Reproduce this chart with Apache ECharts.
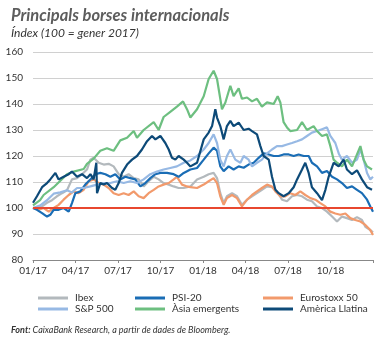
<!DOCTYPE html>
<html><head><meta charset="utf-8">
<script src="https://cdn.jsdelivr.net/npm/echarts@6/dist/echarts.min.js"></script>
<style>html,body{margin:0;padding:0;background:#fff}#c{width:379px;height:338px}</style>
</head><body><div id="c"></div>
<script>
const xTickLabels = ['01/17','04/17','07/17','10/17','01/18','04/18','07/18','10/18',''];
const yTicks = [80,90,100,110,120,130,140,150,160];
// [month since Jan 2017, index]
const ibex = [[0,100],[0.28,100],[0.64,100.6],[0.99,102],[1.34,103],[1.69,104.5],[2.05,105.7],[2.4,106.8],[2.75,111],[3.11,111.5],[3.46,113],[3.81,114.8],[4.05,118.6],[4.28,119.3],[4.64,117.4],[4.99,116.7],[5.34,117],[5.69,116],[6.05,113],[6.4,112],[6.75,113],[7.11,111.5],[7.46,111],[7.81,108.3],[8.16,110.3],[8.52,112],[8.87,111],[9.22,109.6],[9.58,109],[9.93,108.3],[10.28,107.7],[10.64,107.7],[11.11,108.3],[11.58,111],[12.05,112],[12.4,113],[12.75,113.5],[12.99,111.5],[13.22,105.7],[13.46,101.9],[13.69,104.5],[14.05,105.7],[14.4,104.5],[14.75,101.2],[15.11,103.2],[15.46,104.5],[15.81,105.7],[16.16,107],[16.52,108.3],[16.87,108],[17.22,106.4],[17.58,103.2],[17.93,102.6],[18.28,104.5],[18.64,105],[18.99,104.5],[19.34,103.2],[19.69,102.6],[20.05,100.6],[20.4,100],[20.75,98.6],[21.11,96.7],[21.46,94.8],[21.81,96.7],[22.16,96.1],[22.52,95.4],[22.87,96.5],[23.22,95.4],[23.46,92.8],[23.81,91.5],[24,90.6]];
const psi20 = [[0,100],[0.28,99.3],[0.64,98],[0.99,96.7],[1.22,97.4],[1.46,99.3],[1.81,99.3],[2.16,100],[2.52,98.6],[2.75,101.9],[2.99,105.7],[3.34,106.4],[3.69,109],[4.05,111],[4.4,113],[4.75,113.5],[5.11,113],[5.46,112],[5.81,113],[6.16,111],[6.52,112],[6.87,111.5],[7.22,111],[7.58,108.3],[7.93,109.6],[8.28,111.5],[8.64,113],[8.99,113.5],[9.46,113.5],[9.93,113],[10.28,112],[10.64,113.5],[11.11,114.8],[11.58,115.4],[12.05,118.6],[12.4,121],[12.75,123.2],[12.99,122],[13.22,116],[13.46,114.2],[13.81,116],[14.16,114.8],[14.52,116],[14.87,115.5],[15.22,116.7],[15.58,117.4],[15.93,119.3],[16.28,121],[16.64,120.6],[16.99,120],[17.34,120],[17.69,120.6],[18.05,120.6],[18.4,120],[18.75,120.6],[19.11,120],[19.46,120],[19.69,117.4],[20.05,116],[20.4,113.5],[20.75,114.2],[21.11,112],[21.46,111],[21.81,109.6],[22.16,107.7],[22.52,108.3],[22.87,107],[23.22,105.7],[23.58,103.2],[23.81,100.6],[24,98.6]];
const eurostoxx = [[0,100],[0.4,99.3],[0.75,100],[1.11,98.6],[1.46,100],[1.81,101.2],[2.16,103.2],[2.52,105],[2.87,106.4],[3.22,105.7],[3.58,107],[3.93,110.3],[4.28,111],[4.64,109.6],[4.99,109],[5.34,107.7],[5.69,105.7],[6.05,105],[6.4,105.7],[6.75,105],[7.11,106.4],[7.46,104.5],[7.81,103.8],[8.16,105.7],[8.52,107],[8.87,108.3],[9.22,109],[9.58,109.6],[9.93,111],[10.16,112],[10.52,109],[10.87,108.3],[11.11,108],[11.58,107.7],[12.05,109],[12.4,110.3],[12.75,111.5],[12.99,109.6],[13.22,104.5],[13.46,101.2],[13.69,103.8],[14.05,105],[14.4,103.8],[14.75,100.6],[15.11,103.2],[15.46,105],[15.81,106.4],[16.16,107.7],[16.52,109],[16.87,108.3],[17.11,106.4],[17.46,104.5],[17.81,104.5],[18.16,105.7],[18.52,105],[18.87,106.4],[19.22,105],[19.58,103.8],[19.93,103.2],[20.28,101.9],[20.64,100.6],[20.99,98.6],[21.34,97.9],[21.69,97.4],[22.05,97.9],[22.4,96.1],[22.75,95.4],[23.11,94.8],[23.46,93.5],[23.81,91.5],[24,89.6]];
const sp500 = [[0,100],[0.52,101],[0.99,103],[1.46,105.5],[1.93,106],[2.4,106.8],[2.75,106],[3.11,107.7],[3.58,107.7],[4.05,108.3],[4.52,109],[4.99,109.6],[5.46,109.6],[5.93,110.3],[6.4,109.6],[6.87,110.3],[7.34,109.6],[7.81,111],[8.28,113],[8.75,114],[9.22,114.8],[9.69,115.4],[10.16,116],[10.64,117.4],[11.11,118.3],[11.58,120],[12.05,122.5],[12.4,125],[12.75,128.3],[12.99,125],[13.22,118.6],[13.46,116],[13.69,120],[13.93,122.5],[14.28,118.6],[14.64,117.4],[14.87,120],[15.22,118.6],[15.46,116],[15.81,117.4],[16.16,118.6],[16.52,121],[16.87,122.5],[17.22,123.8],[17.58,123.8],[17.93,124.4],[18.28,125],[18.64,125.7],[18.99,126.4],[19.34,127.7],[19.69,129],[20.05,129.6],[20.4,130.3],[20.75,131],[20.99,127.7],[21.34,125],[21.58,121],[21.81,118.6],[22.16,120],[22.52,117.4],[22.87,118.6],[23.11,122.5],[23.34,118.6],[23.58,113.5],[23.81,111],[24,112]];
const asia = [[0,101],[0.5,103],[0.75,105],[1.46,108],[2.4,113],[2.87,114],[3.58,115],[3.81,117],[4.28,119],[4.75,122],[5.22,123],[5.69,122],[6.16,126],[6.64,127],[7.11,129.6],[7.34,127],[7.81,130],[8.52,133],[8.87,130],[9.22,135],[9.69,137],[10.16,139],[10.59,141],[10.87,138],[11.11,134.8],[11.58,138],[12.05,143],[12.4,149.6],[12.75,152.8],[12.99,149.6],[13.22,142],[13.34,138],[13.58,140.6],[13.93,147],[14.16,143],[14.52,146],[14.75,142],[15.11,142.5],[15.46,141],[15.81,142],[16.16,139],[16.52,140.6],[16.99,140],[17.27,143],[17.46,140.6],[17.69,133],[17.93,131],[18.16,129.6],[18.64,130],[18.99,133],[19.34,130],[19.81,131.5],[20.05,129.6],[20.4,127.7],[20.75,128.3],[20.99,123.8],[21.22,118.6],[21.46,117.4],[21.81,116],[22.16,118.6],[22.52,116],[22.87,120.6],[23.11,123.8],[23.34,118.6],[23.58,116],[23.93,114.8]];
const latam = [[0,102],[0.28,104.5],[0.64,108],[0.99,109.6],[1.22,111],[1.58,113.5],[1.81,111],[2.16,112],[2.52,113],[2.75,114],[3.11,112],[3.46,113],[3.81,111.5],[4.05,113],[4.28,111],[4.47,117.4],[4.52,105.7],[4.75,109.6],[4.99,109],[5.22,109.6],[5.58,107.7],[5.81,107],[6.05,109.6],[6.28,113.5],[6.64,116.7],[6.99,118.6],[7.34,120],[7.69,122.5],[8.05,125.7],[8.4,127.7],[8.64,126.4],[8.99,127.7],[9.34,125],[9.58,122.5],[9.81,119.3],[10.05,118.6],[10.28,120],[10.64,118.6],[10.87,117.4],[11.11,116],[11.58,117.4],[12.05,126.4],[12.4,129],[12.64,131.5],[12.87,138],[12.99,134.8],[13.22,131.5],[13.46,126.4],[13.69,131.5],[13.93,133.5],[14.16,131.5],[14.52,132.8],[14.87,130],[15.22,130.5],[15.46,129.6],[15.81,128.3],[16.05,123.8],[16.28,120],[16.64,118.6],[16.87,112],[17.11,107],[17.34,105.7],[17.69,104.5],[18.05,105.7],[18.4,108],[18.64,111],[18.99,114.8],[19.22,117.4],[19.46,113.5],[19.69,108],[20.05,105.7],[20.4,103],[20.64,107],[20.87,112],[21.22,117.4],[21.58,116],[21.93,118.6],[22.16,114.8],[22.52,113],[22.87,114.5],[23.22,111],[23.58,108],[23.93,107]];
const baseline = [[0,100],[24,100]];

const names = ['Ibex','PSI-20','Eurostoxx 50','S&P 500','Àsia emergents','Amèrica Llatina'];
const colors = ['#b3b9bd','#1a6db5','#f29a6c','#97b9e4','#6dbf80','#0d4a78'];
const datasets = [ibex, psi20, eurostoxx, sp500, asia, latam];

const chart = echarts.init(document.getElementById('c'), null, {renderer:'canvas'});
const FF = 'Lato, "Open Sans", sans-serif';
const series = datasets.map((d,i)=>({
  name: names[i], type:'line', data:d, showSymbol:false, symbol:'none',
  lineStyle:{width:2.2, color:colors[i]}, itemStyle:{color:colors[i]},
  z: [2,3,2,3,3,4][i], animation:false
}));
series.push({name:'base', type:'line', data:baseline, symbol:'none', lineStyle:{width:2,color:'#e8472f'}, z:6, animation:false});

const legendCommon = {orient:'vertical', top:288, itemWidth:30, itemHeight:3, itemGap:1, icon:'rect',
  textStyle:{fontFamily:FF, fontSize:10, color:'#333', padding:[0,0,0,2]}, selectedMode:false};
chart.setOption({
  backgroundColor:'#fff',
  animation:false,
  title:[
    {text:'Principals borses internacionals', left:6, top:2, textStyle:{fontFamily:FF, fontStyle:'italic', fontWeight:'bold', fontSize:16.5, color:'#5d5d5d'}},
    {text:'Índex (100 = gener 2017)', left:6, top:22, textStyle:{fontFamily:FF, fontStyle:'italic', fontWeight:'normal', fontSize:12, color:'#333'}},
    {text:'{b|Font:} {n|CaixaBank Research, a partir de dades de Bloomberg.}', left:6, top:321,
      textStyle:{fontFamily:FF, fontStyle:'italic', fontWeight:'normal', fontSize:9, color:'#333',
        rich:{b:{fontFamily:FF, fontStyle:'italic', fontWeight:'bold', fontSize:9, color:'#333'}, n:{fontFamily:FF, fontStyle:'italic', fontWeight:'normal', fontSize:9, color:'#333'}}}}
  ],
  legend:[
    Object.assign({left:33, data:['Ibex','S&P 500']}, legendCommon),
    Object.assign({left:130, data:['PSI-20','Àsia emergents']}, legendCommon),
    Object.assign({left:258, data:['Eurostoxx 50','Amèrica Llatina']}, legendCommon)
  ],
  grid:{left:33, right:6, top:52, bottom:78, containLabel:false},
  xAxis:{type:'value', min:0, max:24, interval:3,
    axisLine:{show:true, lineStyle:{color:'#888', width:1}},
    axisTick:{show:true, length:3, inside:false, lineStyle:{color:'#888'}},
    axisLabel:{fontFamily:FF, fontSize:10, color:'#333', margin:6, formatter:v=>xTickLabels[Math.round(v/3)] || ''},
    splitLine:{show:false}},
  yAxis:{type:'value', min:yTicks[0], max:yTicks[yTicks.length-1], interval:10,
    axisLine:{show:false}, axisTick:{show:false},
    axisLabel:{fontFamily:FF, fontSize:10, color:'#333', margin:10},
    splitLine:{lineStyle:{color:'#d0d0d0', width:1}}},
  series: series
});
</script></body></html>
